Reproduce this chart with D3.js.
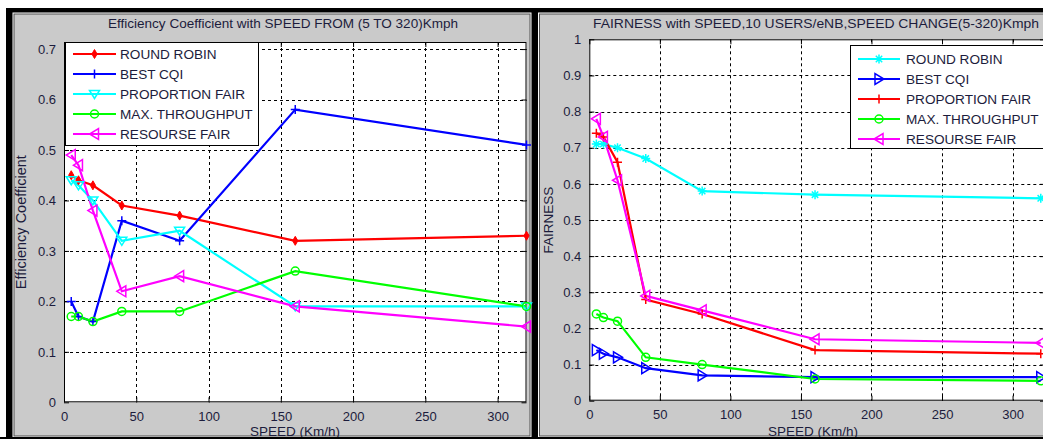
<!DOCTYPE html>
<html><head><meta charset="utf-8">
<script src="https://cdn.jsdelivr.net/npm/d3@7"></script>
<style>html,body{margin:0;padding:0;background:#fff;}svg{display:block;font-family:"Liberation Sans",Arial,sans-serif;}</style>
</head><body>
<svg id="c" width="1043" height="439"></svg>
<script>
// ---------- data ----------
const speeds = [5, 10, 20, 40, 80, 160, 320];
const xTicks = [0, 50, 100, 150, 200, 250, 300];

// Left chart: efficiency coefficient
const effTitle = "Efficiency Coefficient with SPEED FROM (5 TO 320)Kmph";
const effYLabel = "Efficiency Coefficient";
const effYTicks = [0, 0.1, 0.2, 0.3, 0.4, 0.5, 0.6, 0.7];
const effNames = ["ROUND ROBIN", "BEST CQI", "PROPORTION FAIR", "MAX. THROUGHPUT", "RESOURSE FAIR"];
const effRoundRobin = [0.45, 0.44, 0.43, 0.39, 0.37, 0.32, 0.33];
const effBestCqi = [0.20, 0.17, 0.16, 0.36, 0.32, 0.58, 0.51];
const effPropFair = [0.44, 0.43, 0.40, 0.32, 0.34, 0.19, 0.19];
const effMaxThr = [0.17, 0.17, 0.16, 0.18, 0.18, 0.26, 0.19];
const effResFair = [0.49, 0.47, 0.38, 0.22, 0.25, 0.19, 0.15];

// Right chart: fairness
const fairTitle = "FAIRNESS with SPEED,10 USERS/eNB,SPEED CHANGE(5-320)Kmph";
const fairYLabel = "FAIRNESS";
const fairYTicks = [0, 0.1, 0.2, 0.3, 0.4, 0.5, 0.6, 0.7, 0.8, 0.9, 1];
const fairNames = ["ROUND ROBIN", "BEST CQI", "PROPORTION FAIR", "MAX. THROUGHPUT", "RESOURSE FAIR"];
const fairRoundRobin = [0.71, 0.71, 0.70, 0.67, 0.58, 0.57, 0.56];
const fairBestCqi = [0.14, 0.13, 0.12, 0.09, 0.07, 0.065, 0.065];
const fairPropFair = [0.74, 0.73, 0.66, 0.28, 0.24, 0.14, 0.13];
const fairMaxThr = [0.24, 0.23, 0.22, 0.12, 0.10, 0.06, 0.055];
const fairResFair = [0.78, 0.73, 0.61, 0.29, 0.25, 0.17, 0.16];

const xLabel = "SPEED (Km/h)";

// ---------- drawing ----------
const svg = d3.select("#c");
const TXT = "#1c1c3c";

// frames
svg.append("rect").attr("x", 6).attr("y", 8).attr("width", 1100).attr("height", 440).attr("fill", "#000");
function panel(x0, x1) {
  svg.append("rect").attr("x", x0).attr("y", 12.5).attr("width", x1 - x0).attr("height", 424.5).attr("fill", "#fff");
  svg.append("rect").attr("x", x0 + 1.5).attr("y", 14).attr("width", x1 - x0 - 3).attr("height", 422)
    .attr("fill", "#cacaca").attr("stroke", "#505050").attr("stroke-width", 1);
}
panel(12.5, 531.5);
panel(538, 1120);

function marker(g, type, x, y, color) {
  const s = g.append("g").attr("transform", `translate(${x},${y})`);
  const st = {fill: "none", stroke: color, "stroke-width": 1.5};
  const ap = (sel) => { for (const k in st) sel.attr(k, st[k]); return sel; };
  if (type === "diamond") {
    s.append("path").attr("d", "M0,-4.5L2.6,0L0,4.5L-2.6,0Z").attr("fill", color).attr("stroke", color).attr("stroke-width", 1);
  } else if (type === "plus") {
    ap(s.append("path").attr("d", "M-4.5,0H4.5M0,-4.5V4.5"));
  } else if (type === "asterisk") {
    ap(s.append("path").attr("d", "M-4.5,0H4.5M0,-4.5V4.5M-3.2,-3.2L3.2,3.2M-3.2,3.2L3.2,-3.2"));
  } else if (type === "circle") {
    ap(s.append("circle").attr("r", 4));
  } else if (type === "triDown") {
    ap(s.append("path").attr("d", "M-5,-3.5H5L0,4.5Z"));
  } else if (type === "triLeft") {
    ap(s.append("path").attr("d", "M4,-5.5V5.5L-5,0Z"));
  } else if (type === "triRight") {
    ap(s.append("path").attr("d", "M-4,-5.5V5.5L5,0Z"));
  }
}

function chart(cfg) {
  const x = d3.scaleLinear().domain([0, cfg.xMax]).range([cfg.left, cfg.right]);
  const y = d3.scaleLinear().domain([0, cfg.yMax]).range([cfg.bottom, cfg.top]);
  const g = svg.append("g");
  const clipId = "clip" + cfg.id;
  svg.append("clipPath").attr("id", clipId).append("rect")
    .attr("x", cfg.left).attr("y", cfg.top - 8).attr("width", cfg.right - cfg.left + 8).attr("height", cfg.bottom - cfg.top + 16);

  g.append("rect").attr("x", cfg.left).attr("y", cfg.top).attr("width", cfg.right - cfg.left).attr("height", cfg.bottom - cfg.top).attr("fill", "#fff");

  // grid
  const grid = g.append("g").attr("stroke", "#000").attr("stroke-width", 1).attr("stroke-dasharray", "3,3");
  cfg.xTicks.filter(v => v > 0).forEach(v => {
    grid.append("line").attr("x1", Math.round(x(v)) + 0.5).attr("x2", Math.round(x(v)) + 0.5).attr("y1", cfg.top).attr("y2", cfg.bottom);
  });
  cfg.yTicks.filter(v => v > 0 && y(v) > cfg.top + 1).forEach(v => {
    grid.append("line").attr("y1", Math.round(y(v)) + 0.5).attr("y2", Math.round(y(v)) + 0.5).attr("x1", cfg.left).attr("x2", cfg.right);
  });

  // axes with inward ticks
  const axB = d3.axisBottom(x).tickValues(cfg.xTicks).tickSizeInner(-5).tickSizeOuter(0).tickPadding(9).tickFormat(d3.format("d"));
  const axT = d3.axisTop(x).tickValues(cfg.xTicks).tickSizeInner(-5).tickSizeOuter(0).tickFormat("");
  const axL = d3.axisLeft(y).tickValues(cfg.yTicks).tickSizeInner(-5).tickSizeOuter(0).tickPadding(8).tickFormat(cfg.yFmt);
  const axR = d3.axisRight(y).tickValues(cfg.yTicks).tickSizeInner(-5).tickSizeOuter(0).tickFormat("");
  const styleAx = (sel) => {
    sel.selectAll("path").remove();
    sel.selectAll("line").attr("stroke", "#000");
    sel.selectAll("text").attr("fill", TXT).style("font-size", "13px").style("font-family", '"Liberation Sans",Arial,sans-serif');
  };
  g.append("g").attr("transform", `translate(0,${cfg.bottom})`).call(axB).call(styleAx);
  g.append("g").attr("transform", `translate(0,${cfg.top})`).call(axT).call(styleAx);
  g.append("g").attr("transform", `translate(${cfg.left},0)`).call(axL).call(styleAx);
  g.append("g").attr("transform", `translate(${cfg.right},0)`).call(axR).call(styleAx);

  // box
  g.append("rect").attr("x", cfg.left + 0.5).attr("y", cfg.top + 0.5).attr("width", cfg.right - cfg.left - 1).attr("height", cfg.bottom - cfg.top - 1)
    .attr("fill", "none").attr("stroke", "#000").attr("stroke-width", 1);

  // series
  const sg = g.append("g").attr("clip-path", `url(#${clipId})`);
  const line = d3.line().x((d, i) => x(speeds[i])).y(d => y(d));
  cfg.series.forEach(s => {
    sg.append("path").datum(s.values).attr("d", line).attr("fill", "none").attr("stroke", s.color).attr("stroke-width", 2.2);
  });
  cfg.series.forEach(s => {
    s.values.forEach((v, i) => marker(sg, s.marker, x(speeds[i]), y(v), s.color));
  });

  // legend
  const lg = g.append("g");
  lg.append("rect").attr("x", cfg.leg.x + 0.5).attr("y", cfg.leg.y + 0.5).attr("width", cfg.leg.w).attr("height", cfg.leg.h)
    .attr("fill", "#fff").attr("stroke", "#000").attr("stroke-width", 1);
  cfg.series.forEach((s, i) => {
    const ly = cfg.leg.y0 + i * 20;
    lg.append("line").attr("x1", cfg.leg.lx0).attr("x2", cfg.leg.lx1).attr("y1", ly).attr("y2", ly).attr("stroke", s.color).attr("stroke-width", 2.2);
    marker(lg, s.marker, (cfg.leg.lx0 + cfg.leg.lx1) / 2, ly, s.color);
    lg.append("text").attr("x", cfg.leg.tx).attr("y", ly + 5).attr("fill", TXT).style("font-size", "13.6px").text(s.name);
  });

  // title and labels
  svg.append("text").attr("x", cfg.titleX).attr("y", 28).attr("text-anchor", "middle").attr("fill", TXT)
    .style("font-size", "13.5px").attr("textLength", cfg.titleLen).attr("lengthAdjust", "spacingAndGlyphs").text(cfg.title);
  svg.append("text").attr("x", cfg.xLabX).attr("y", 435.5).attr("text-anchor", "middle").attr("fill", TXT)
    .style("font-size", "13.5px").text(xLabel);
  svg.append("text").attr("transform", `translate(${cfg.yLabX},${(cfg.top + cfg.bottom) / 2}) rotate(-90)`).attr("text-anchor", "middle").attr("fill", TXT)
    .style("font-size", cfg.yLabSize).text(cfg.yLabel);
}

chart({
  id: "L", left: 64, right: 526.5, top: 42, bottom: 402.3, xMax: 320, yMax: 0.714,
  xTicks: xTicks, yTicks: effYTicks, yFmt: d => d === 0 ? "0" : d3.format(".1f")(d),
  title: effTitle, titleX: 283, titleLen: 350, yLabel: effYLabel, yLabX: 26, yLabSize: "14.5px", xLabX: 295,
  series: [
    {name: effNames[0], values: effRoundRobin, color: "#ff0000", marker: "diamond"},
    {name: effNames[1], values: effBestCqi, color: "#0000ff", marker: "plus"},
    {name: effNames[2], values: effPropFair, color: "#00ffff", marker: "triDown"},
    {name: effNames[3], values: effMaxThr, color: "#00ff00", marker: "circle"},
    {name: effNames[4], values: effResFair, color: "#ff00ff", marker: "triLeft"}
  ],
  leg: {x: 65, y: 42, w: 193, h: 103, y0: 54, lx0: 73, lx1: 116, tx: 120}
});

chart({
  id: "R", left: 589.3, right: 1045, top: 39.3, bottom: 400.7, xMax: 323, yMax: 1,
  xTicks: xTicks, yTicks: fairYTicks, yFmt: d => (d === 0 || d === 1) ? String(d) : d3.format(".1f")(d),
  title: fairTitle, titleX: 816, titleLen: 446, yLabel: fairYLabel, yLabX: 553, yLabSize: "13.5px", xLabX: 813,
  series: [
    {name: fairNames[0], values: fairRoundRobin, color: "#00ffff", marker: "asterisk"},
    {name: fairNames[1], values: fairBestCqi, color: "#0000ff", marker: "triRight"},
    {name: fairNames[2], values: fairPropFair, color: "#ff0000", marker: "plus"},
    {name: fairNames[3], values: fairMaxThr, color: "#00ff00", marker: "circle"},
    {name: fairNames[4], values: fairResFair, color: "#ff00ff", marker: "triLeft"}
  ],
  leg: {x: 850, y: 45, w: 210, h: 103, y0: 59, lx0: 858, lx1: 900, tx: 906}
});

// bottom frame
svg.append("rect").attr("x", 0).attr("y", 437).attr("width", 1043).attr("height", 2).attr("fill", "#000");
</script>
</body></html>
